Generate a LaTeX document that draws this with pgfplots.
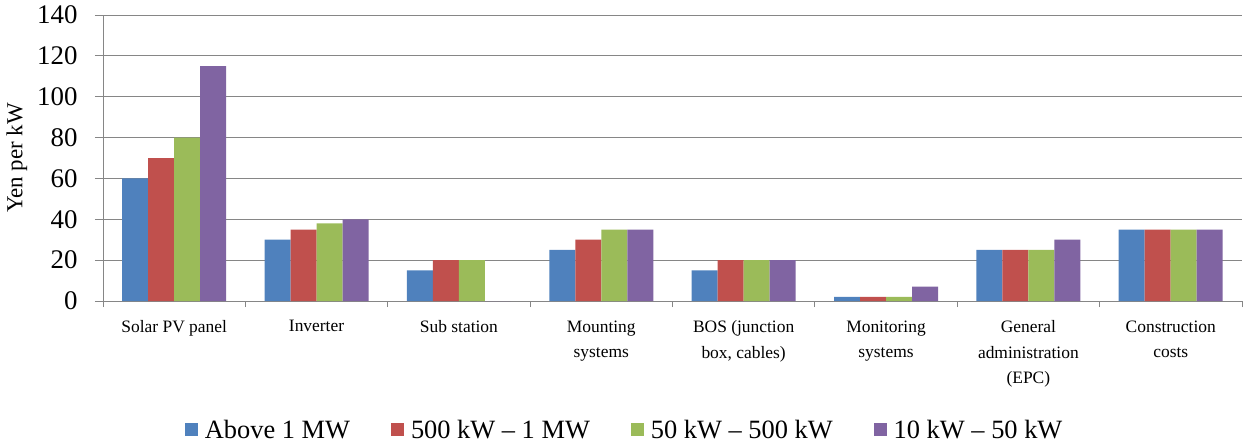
\documentclass[border=0pt]{standalone}
\usepackage{fontspec}
\setmainfont{Liberation Serif}
\usepackage{pgfplots}
\pgfplotsset{compat=1.18}
\definecolor{sA}{HTML}{4F81BD}
\definecolor{sB}{HTML}{C0504D}
\definecolor{sC}{HTML}{9BBB59}
\definecolor{sD}{HTML}{8064A2}
\definecolor{gridc}{HTML}{868686}
\begin{document}
\begin{tikzpicture}
\begin{axis}[
    scale only axis,
    width=1139bp, height=286bp,
    ybar=0pt, bar width=26bp,
    xmin=-0.5, xmax=7.5,
    ymin=0, ymax=140,
    ytick={0,20,...,140},
    /pgf/number format/assume math mode=true,
    yticklabel={\pgfmathprintnumber{\tick}},
    xtick={0,...,7},
    xticklabels={{Solar PV panel}, {Inverter}, {Sub station}, {Mounting\\systems},
        {BOS (junction\\box, cables)}, {Monitoring\\systems},
        {General\\administration\\(EPC)}, {Construction\\costs}},
    xticklabel style={align=center, font=\fontsize{17.5}{25.5}\selectfont, yshift=-8bp},
    major x tick style={draw=none},
    minor xtick={-0.5,0.5,...,7.5},
    minor x tick style={draw=gridc, thick},
    minor tick length=6bp,
    major tick length=8bp,
    tick align=outside,
    ymajorgrids,
    grid style={gridc, thick},
    axis x line*=bottom, axis y line*=left,
    axis line style={gridc, thick},
    y axis line style={-}, x axis line style={-},
    ytick style={gridc, thick},
    yticklabel style={font=\fontsize{27}{27}\selectfont, xshift=-14bp},
    ylabel={Yen per kW},
    ylabel style={font=\fontsize{23}{23}\selectfont},
    ylabel shift=3bp,
    legend columns=4,
    legend style={draw=none, at={(0.458,-0.451)}, anchor=center,
        font=\fontsize{26.5}{26.5}\selectfont,
        /tikz/every odd column/.append style={column sep=5bp},
        /tikz/every even column/.append style={column sep=39bp}},
    legend image code/.code={\fill[#1] (0bp,-6.5bp) rectangle (13bp,6.5bp);},
    every axis plot/.append style={draw=none},
]
\coordinate (bl) at (rel axis cs:0,0);
\addplot[fill=sA] coordinates {(0,60) (1,30) (2,15) (3,25) (4,15) (5,2) (6,25) (7,35)};
\addplot[fill=sB] coordinates {(0,70) (1,35) (2,20) (3,30) (4,20) (5,2) (6,25) (7,35)};
\addplot[fill=sC] coordinates {(0,80) (1,38) (2,20) (3,35) (4,20) (5,2) (6,25) (7,35)};
\addplot[fill=sD] coordinates {(0,115) (1,40) (2,0) (3,35) (4,20) (5,7) (6,30) (7,35)};
\legend{Above 1 MW, 500 kW – 1 MW, 50 kW – 500 kW, 10 kW – 50 kW}
\end{axis}
\pgfresetboundingbox
\path (bl) ++(-103bp,-144bp) rectangle ++(1244bp,445bp);
\end{tikzpicture}
\end{document}
